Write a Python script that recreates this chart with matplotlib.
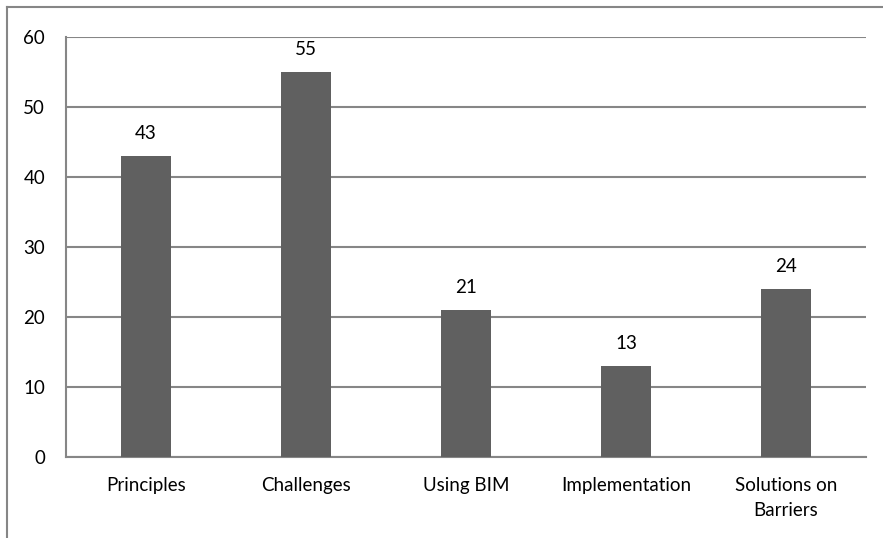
import matplotlib
matplotlib.use("Agg")
import matplotlib.pyplot as plt

categories = ["Principles", "Challenges", "Using BIM", "Implementation", "Solutions on\nBarriers"]
values = [43, 55, 21, 13, 24]
yticks = [0, 10, 20, 30, 40, 50, 60]

plt.rcParams['font.family'] = ['Lato', 'DejaVu Sans']

fig = plt.figure(figsize=(8.83, 5.38), dpi=100)
ax = fig.add_axes([66/883, 1 - 457/538, 800/883, 420/538])

grid_c = "#868686"
bar_c = "#606060"
fs = 13.5

x = range(len(categories))
ax.bar(x, values, width=0.31, color=bar_c, zorder=3)
for xi, v in zip(x, values):
    ax.annotate(str(v), (xi, v), xytext=(0, 10), textcoords="offset points",
                ha="center", va="bottom", fontsize=fs, color="black")

ax.set_xlim(-0.5, len(categories) - 0.5)
ax.set_ylim(0, 60)
ax.set_yticks(yticks)
ax.set_xticks(list(x))
ax.set_xticklabels(categories, fontsize=fs, linespacing=1.55)
ax.tick_params(axis="both", length=0, labelsize=fs)
ax.tick_params(axis="y", pad=15)
ax.tick_params(axis="x", pad=14.5)
ax.yaxis.grid(True, color=grid_c, linewidth=1.5, zorder=0)
ax.set_axisbelow(True)
for s in ["top", "right"]:
    ax.spines[s].set_visible(False)
for s in ["left", "bottom"]:
    ax.spines[s].set_color(grid_c)
    ax.spines[s].set_linewidth(1.5)

# outer chart frame
fig.add_artist(plt.Line2D([7/883, 1.01], [1 - 7/538, 1 - 7/538], color=grid_c, lw=1.5, transform=fig.transFigure))
fig.add_artist(plt.Line2D([7/883, 7/883], [-0.01, 1 - 7/538], color=grid_c, lw=1.5, transform=fig.transFigure))

fig.savefig("out.png", dpi=100, facecolor="white")
